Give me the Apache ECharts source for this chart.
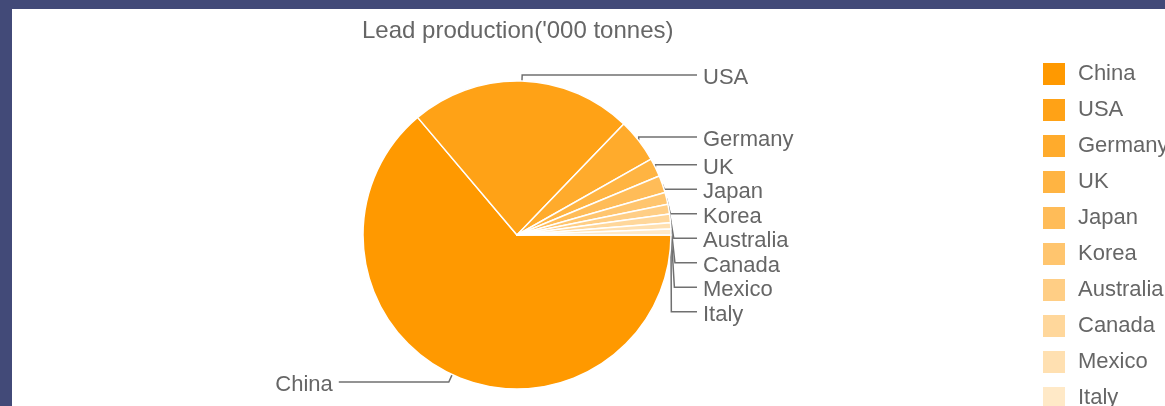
<!DOCTYPE html>
<html>
<head>
<meta charset="utf-8">
<script src="https://cdn.jsdelivr.net/npm/echarts@6/dist/echarts.min.js"></script>
<style>
  html, body { margin: 0; padding: 0; width: 1165px; height: 406px; overflow: hidden; background: #424a78; }
  #wrap { position: absolute; left: 12px; top: 9px; width: 1153px; height: 397px; overflow: hidden; background: #ffffff; }
  #chart { position: absolute; left: 0; top: 0; width: 1300px; height: 440px; }
</style>
</head>
<body>
<div id="wrap"><div id="chart"></div></div>
<script>
const titleText = "Lead production('000 tonnes)";
const categories = ['China', 'USA', 'Germany', 'UK', 'Japan', 'Korea', 'Australia', 'Canada', 'Mexico', 'Italy'];
const values = [4596, 1682, 332, 140, 130, 90, 74, 64, 48, 44];
const palette = ['#FF9900', '#FFA216', '#FFAB2C', '#FFB442', '#FFBC58', '#FFC56E', '#FFCE85', '#FFD79B', '#FFE0B1', '#FFE9C7'];

const fontFamily = '"Liberation Sans", Arial, Helvetica, sans-serif';
const pieCenter = [505, 226];
const pieRadius = 154;
const lineLen = 6;
const lineLen2 = 20;
const labelGap = 6;
const textDrop = 3;

const data = categories.map((name, i) => {
  const item = { name: name, value: values[i] };
  if (i === 0) item.labelLine = { length: 8, length2: 110 };
  return item;
});

const chart = echarts.init(document.getElementById('chart'), null, { renderer: 'canvas' });
chart.setOption({
  animation: false,
  backgroundColor: '#ffffff',
  color: palette,
  title: {
    text: titleText,
    left: 350,
    top: 10,
    padding: 0,
    textStyle: { fontFamily: fontFamily, fontSize: 24, fontWeight: 'normal', color: '#666666', lineHeight: 24 }
  },
  legend: {
    orient: 'vertical',
    left: 1029,
    top: 52,
    height: 420,
    padding: 0,
    icon: 'rect',
    itemWidth: 24,
    itemHeight: 24,
    itemGap: 10,
    data: categories,
    textStyle: { fontFamily: fontFamily, fontSize: 22, color: '#666666', padding: [0, 0, 0, 7], lineHeight: 24 }
  },
  series: [{
    type: 'pie',
    center: pieCenter,
    radius: pieRadius,
    startAngle: 0,
    clockwise: true,
    avoidLabelOverlap: true,
    itemStyle: { borderColor: '#ffffff', borderWidth: 1.5 },
    label: {
      show: true,
      position: 'outside',
      edgeDistance: 5,
      distanceToLabelLine: labelGap,
      fontFamily: fontFamily,
      fontSize: 22,
      lineHeight: 22.5,
      color: '#666666'
    },
    labelLine: {
      show: true,
      length: lineLen,
      length2: lineLen2,
      lineStyle: { color: '#707070', width: 1.5 }
    },
    labelLayout: function (p) {
      const pts = p.labelLinePoints;
      if (!pts) return {};
      const midY = p.labelRect.y + p.labelRect.height / 2 + textDrop;
      if (pts[2][0] < pieCenter[0]) {
        return {
          y: midY,
          verticalAlign: 'middle',
          labelLinePoints: [pts[0].slice(), pts[1].slice(), pts[2].slice()]
        };
      }
      const endX = pieCenter[0] + pieRadius + lineLen + lineLen2;
      return {
        x: endX + labelGap,
        y: midY,
        align: 'left',
        verticalAlign: 'middle',
        labelLinePoints: [pts[0].slice(), pts[1].slice(), [endX, pts[2][1]]]
      };
    },
    emphasis: { disabled: true },
    data: data
  }]
});
</script>
</body>
</html>
